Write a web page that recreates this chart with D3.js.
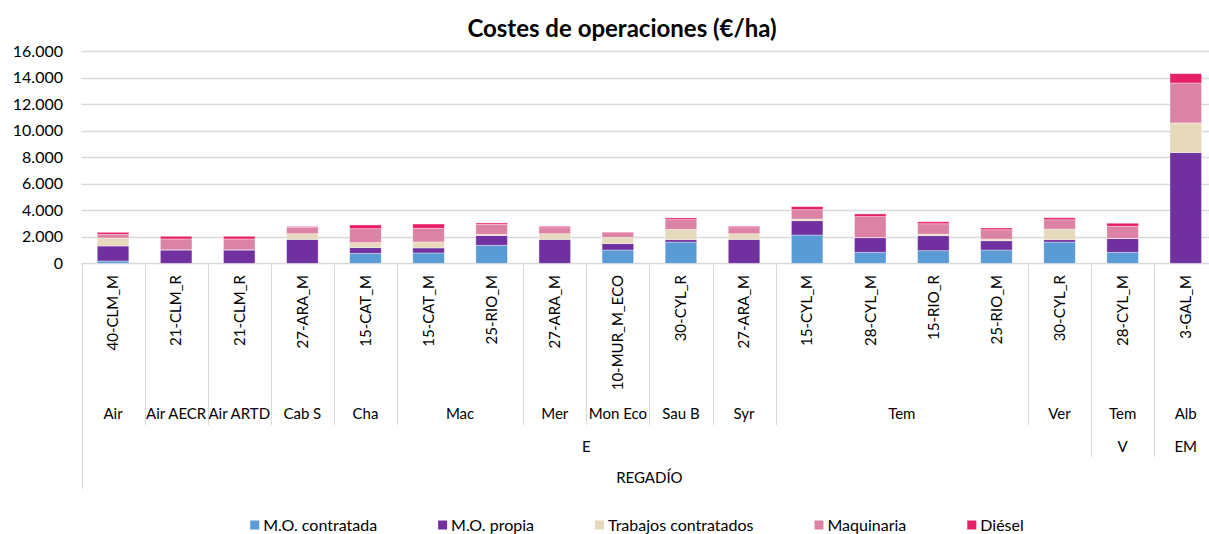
<!DOCTYPE html>
<meta charset="utf-8">
<style>
body { margin: 0; background: #fff; }
text { font-family: Lato, "Liberation Sans", sans-serif; fill: #000; }
</style>
<body>
<script src="https://cdn.jsdelivr.net/npm/d3@7"></script>
<script>

// category codes (level 1 of the axis)
var codes = ["40-CLM_M", "21-CLM_R", "21-CLM_R", "27-ARA_M", "15-CAT_M", "15-CAT_M",
             "25-RIO_M", "27-ARA_M", "10-MUR_M_ECO", "30-CYL_R", "27-ARA_M", "15-CYL_M",
             "28-CYL_M", "15-RIO_R", "25-RIO_M", "30-CYL_R", "28-CYL_M", "3-GAL_M"];
// level 2, 3 and 4 labels for each category
var cultivo = ["Air", "Air AECR", "Air ARTD", "Cab S", "Cha", "Mac", "Mac", "Mer", "Mon Eco",
               "Sau B", "Syr", "Tem", "Tem", "Tem", "Tem", "Ver", "Tem", "Alb"];
var tipo = ["E", "E", "E", "E", "E", "E", "E", "E", "E", "E", "E", "E", "E", "E", "E", "E", "V", "EM"];
var sistema = ["REGADÍO", "REGADÍO", "REGADÍO", "REGADÍO", "REGADÍO", "REGADÍO", "REGADÍO", "REGADÍO", "REGADÍO",
               "REGADÍO", "REGADÍO", "REGADÍO", "REGADÍO", "REGADÍO", "REGADÍO", "REGADÍO", "REGADÍO", "REGADÍO"];

// series (€/ha)
var seriesNames = ["M.O. contratada", "M.O. propia", "Trabajos contratados", "Maquinaria", "Diésel"];
var moContratada = [175, 0, 0, 0, 750, 780, 1360, 0, 1000, 1600, 0, 2130, 830, 950, 1000, 1600, 830, 0];
var moPropia     = [1130, 1000, 1000, 1800, 430, 380, 730, 1800, 480, 180, 1800, 1080, 1100, 1130, 700, 180, 1030, 8340];
var trabajos     = [600, 20, 20, 430, 380, 450, 100, 430, 480, 780, 430, 130, 20, 120, 130, 800, 30, 2240];
var maquinaria   = [280, 815, 815, 480, 1050, 1030, 750, 450, 350, 730, 450, 700, 1570, 780, 700, 700, 900, 3010];
var diesel       = [150, 200, 200, 60, 280, 320, 100, 100, 50, 130, 100, 230, 200, 150, 130, 150, 230, 700];
var colors = ["#5b9bd5", "#7030a0", "#e6d9bc", "#dc82a4", "#e61f66"];

var yTicks = [0, 2000, 4000, 6000, 8000, 10000, 12000, 14000, 16000];

var W = 1209, H = 534;
var plotLeft = 81.5, step = 63.1, plotTop = 51, plotBottom = 263.3;

var svg = d3.select("body").append("svg")
    .attr("width", W)
    .attr("height", H);

// build the table for the stack
var table = codes.map(function(c, i) {
  return { i: i, s0: moContratada[i], s1: moPropia[i], s2: trabajos[i], s3: maquinaria[i], s4: diesel[i] };
});
var keys = ["s0", "s1", "s2", "s3", "s4"];
var stacked = d3.stack().keys(keys)(table);

// scales
var x = d3.scaleBand()
    .domain(d3.range(codes.length))
    .range([plotLeft, plotLeft + step * codes.length])
    .paddingInner(0.5)
    .paddingOuter(0.25);
var y = d3.scaleLinear()
    .domain([0, 16000])
    .range([plotBottom, plotTop]);

var loc = d3.formatLocale({ decimal: ",", thousands: ".", grouping: [3], currency: ["", "€"] });
var fmt = loc.format(",.0f");

// gridlines + y labels
svg.append("g")
    .selectAll("line")
    .data(yTicks)
  .enter().append("line")
    .attr("x1", plotLeft)
    .attr("x2", W)
    .attr("y1", function(d) { return Math.round(y(d)) + 0.5; })
    .attr("y2", function(d) { return Math.round(y(d)) + 0.5; })
    .attr("stroke", "#d9d9d9")
    .attr("stroke-width", 1.3);

svg.append("g")
    .selectAll("text")
    .data(yTicks)
  .enter().append("text")
    .attr("x", 63)
    .attr("y", function(d) { return y(d); })
    .attr("dy", "0.35em")
    .attr("text-anchor", "end")
    .style("font-size", "16px")
    .text(function(d) { return fmt(d); });

// stacked bars
svg.append("g")
    .selectAll("g")
    .data(stacked)
  .enter().append("g")
    .attr("fill", function(d, k) { return colors[k]; })
  .selectAll("rect")
    .data(function(d) { return d; })
  .enter().append("rect")
    .attr("x", function(d) { return x(d.data.i); })
    .attr("width", x.bandwidth())
    .attr("y", function(d) { return y(d[1]); })
    .attr("height", function(d) { return Math.max(0, y(d[0]) - y(d[1])); })
    .attr("stroke", "#fff")
    .attr("stroke-opacity", 0.45)
    .attr("stroke-width", 0.8);

// multi-level category axis
function runs(arr, parent) {
  var out = [];
  arr.forEach(function(v, i) {
    var key = v + "|" + (parent ? parent[i] : "");
    if (out.length && out[out.length - 1].key === key) out[out.length - 1].end = i;
    else out.push({ key: key, label: v, start: i, end: i });
  });
  return out;
}
var lvl2 = runs(cultivo, tipo);
var lvl3 = runs(tipo, sistema);
var lvl4 = runs(sistema, null);

function bx(i) { return plotLeft + step * i; }

var axis = svg.append("g");

// divider lines: deeper for outer levels
var dividers = [];
lvl2.forEach(function(r) { dividers.push({ i: r.start, y2: 425 }); });
lvl3.forEach(function(r) { dividers.push({ i: r.start, y2: 457 }); });
lvl4.forEach(function(r) { dividers.push({ i: r.start, y2: 489 }); });

axis.selectAll("line.div")
    .data(dividers)
  .enter().append("line")
    .attr("class", "div")
    .attr("x1", function(d) { return Math.round(bx(d.i)) + 0.5; })
    .attr("x2", function(d) { return Math.round(bx(d.i)) + 0.5; })
    .attr("y1", plotBottom)
    .attr("y2", function(d) { return d.y2; })
    .attr("stroke", "#d9d9d9")
    .attr("stroke-width", 1);

// level 1: rotated codes
axis.selectAll("text.code")
    .data(codes)
  .enter().append("text")
    .attr("class", "code")
    .attr("transform", function(d, i) {
      return "translate(" + (x(i) + x.bandwidth() / 2) + ",275) rotate(-90)";
    })
    .attr("dy", "0.35em")
    .attr("text-anchor", "end")
    .style("font-size", "15px")
    .text(function(d) { return d; });

// levels 2..4
var levels = [{ data: lvl2, y: 414 }, { data: lvl3, y: 447 }, { data: lvl4, y: 478 }];
levels.forEach(function(l) {
  axis.append("g")
      .selectAll("text")
      .data(l.data)
    .enter().append("text")
      .attr("x", function(d) { return (bx(d.start) + bx(d.end + 1)) / 2; })
      .attr("y", l.y)
      .attr("dy", "0.35em")
      .attr("text-anchor", "middle")
      .style("font-size", "15px")
      .text(function(d) { return d.label; });
});

// title
svg.append("text")
    .attr("x", 622)
    .attr("y", 29)
    .attr("dy", "0.35em")
    .attr("text-anchor", "middle")
    .style("font-size", "24px")
    .style("font-weight", "bold")
    .text("Costes de operaciones (€/ha)");

// legend
var legend = svg.append("g");
var items = legend.selectAll("g")
    .data(seriesNames)
  .enter().append("g");
items.append("rect")
    .attr("width", 9)
    .attr("height", 9)
    .attr("y", -4.5)
    .attr("fill", function(d, k) { return colors[k]; });
items.append("text")
    .attr("x", 13)
    .attr("dy", "0.35em")
    .style("font-size", "16px")
    .text(function(d) { return d; });

var gap = 61, pos = 0, starts = [];
items.each(function(d) {
  starts.push(pos);
  pos += 13 + d3.select(this).select("text").node().getComputedTextLength() + gap;
});
var total = pos - gap;
var x0 = 637 - total / 2;
items.attr("transform", function(d, k) { return "translate(" + (x0 + starts[k]) + ",525)"; });

</script>
</body>
